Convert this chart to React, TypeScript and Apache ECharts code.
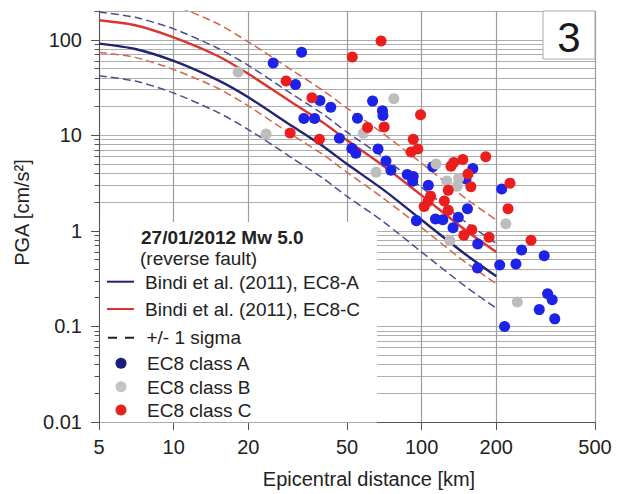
import React, { useEffect, useRef } from "react";
import * as echarts from "echarts";

// ---- GMPE curves (Bindi et al. 2011) ----
const curveDistances = [5, 7, 10, 15, 20, 30, 40, 50, 70, 100, 150, 200];
const ec8aMedian = [91, 80, 60, 38, 25, 12.5, 7.7, 5.0, 2.7, 1.3, 0.57, 0.335];
const ec8aPlusSigma = [195, 172, 130, 82, 54, 27, 16.7, 10.8, 5.9, 2.85, 1.24, 0.74];
const ec8aMinusSigma = [42, 37, 27.7, 17.5, 11.5, 5.8, 3.55, 2.3, 1.25, 0.6, 0.263, 0.155];
const ec8cMedian = [160, 142, 106, 68, 44, 22, 13.6, 8.9, 4.8, 2.35, 1.02, 0.6];
const ec8cPlusSigma = [347, 308, 230, 148, 95, 48, 29.5, 19.3, 10.4, 5.1, 2.2, 1.3];
const ec8cMinusSigma = [73.7, 65.4, 48.8, 31.3, 20.3, 10.1, 6.3, 4.1, 2.2, 1.08, 0.47, 0.28];

// ---- Observed PGA [distance km, PGA cm/s2] ----
const classA = [
  [25.2, 57], [32.8, 74], [31.0, 34], [38.9, 23.2], [43.0, 19.7], [33.5, 15.0], [37.0, 15.0],
  [55.1, 15.1], [46.6, 9.3], [52.3, 7.3], [54.3, 6.5], [63.4, 22.8], [69.5, 18.1], [69.8, 16.1],
  [66.7, 7.2], [71.8, 5.4], [75.2, 4.3], [87.5, 3.9], [92.5, 3.7], [92.0, 3.3], [106.4, 3.0],
  [110.8, 4.7], [160.8, 4.5], [150.9, 3.5], [153.0, 1.7], [95.2, 1.28], [113.7, 1.33],
  [121.7, 1.31], [140.5, 1.39], [133.8, 1.08], [168.3, 0.73], [210.3, 2.74], [253, 0.63],
  [312, 0.55], [168, 0.41], [206.4, 0.44], [240, 0.45], [322, 0.22], [336, 0.19], [298, 0.15],
  [344, 0.12], [216, 0.10],
];
const classB = [
  [18.2, 46], [23.6, 10.3], [77.2, 24.2], [58.2, 10.5], [65.5, 4.1], [114.3, 5.0], [126.2, 3.32],
  [141, 3.56], [139, 2.94], [130, 0.79], [218.5, 1.19], [243, 0.18],
];
const classC = [
  [28.4, 37], [36.1, 24.7], [29.5, 10.6], [38.7, 9.1], [52.5, 66], [68.6, 97], [60.5, 12.1],
  [70.6, 12.2], [99, 16.4], [92.5, 9.1], [90.6, 6.7], [96.5, 7.2], [131.3, 4.76], [134.6, 5.2],
  [146.5, 5.57], [181.3, 5.98], [153.8, 3.93], [158, 2.89], [128, 2.67], [108.6, 2.31],
  [106, 2.03], [102.4, 1.8], [123.4, 2.06], [128, 1.64], [159.3, 1.03], [148, 0.9], [187, 0.86],
  [227, 3.16], [223, 1.7], [276, 0.8],
];

// ---- Axes ----
const xMin = 5;
const xMax = 500;
const yMin = 0.01;
const yMax = 200;
const xTickValues = [5, 10, 20, 50, 100, 200, 500];
const xTickLabels = ["5", "10", "20", "50", "100", "200", "500"];
const yTickValues = [0.01, 0.1, 1, 10, 100];
const yTickLabels = ["0.01", "0.1", "1", "10", "100"];
const yGridValues = [
  0.01, 0.02, 0.03, 0.04, 0.05, 0.06, 0.07, 0.08, 0.09,
  0.1, 0.2, 0.3, 0.4, 0.5, 0.6, 0.7, 0.8, 0.9,
  1, 2, 3, 4, 5, 6, 7, 8, 9,
  10, 20, 30, 40, 50, 60, 70, 80, 90,
  100, 200,
];

const FONT = '"Liberation Sans", Arial, Helvetica, sans-serif';
const lg = Math.log10;

function curve(values: number[]) {
  return curveDistances.map((d, i) => [lg(d), lg(values[i])]);
}
function pts(arr: number[][]) {
  return arr.map(([d, v]) => [lg(d), lg(v)]);
}
function labelFor(values: number[], labels: string[], v: number) {
  for (let i = 0; i < values.length; i++) {
    if (Math.abs(lg(values[i]) - v) < 1e-6) return labels[i];
  }
  return "";
}

export default function App() {
  const ref = useRef<HTMLDivElement>(null);

  useEffect(() => {
    if (!ref.current) return;
    const chart = echarts.init(ref.current, null, { renderer: "svg" });

    const navy = "#232370";
    const navyDash = "#4d4d90";
    const red = "#dc3430";
    const redDash = "#d3644f";
    const axisColor = "#555";

    const lineSeries = (name: string, values: number[], color: string, dashed: boolean, z: number) => ({
      name,
      type: "line",
      data: curve(values),
      showSymbol: false,
      symbol: "none",
      smooth: 0.25,
      z,
      lineStyle: dashed
        ? { color, width: 1.5, type: [8, 4] }
        : { color, width: 2.4 },
      silent: true,
    });

    const legendX = 145;
    const txt = (text: string, x: number, y: number, bold = false) => ({
      type: "text",
      z: 110,
      style: {
        text,
        x,
        y,
        fill: "#222",
        font: `${bold ? "bold " : ""}19px ${FONT}`,
        align: "left",
        verticalAlign: "middle",
        textAlign: "left",
        textVerticalAlign: "middle",
      },
    });

    chart.setOption({
      animation: false,
      backgroundColor: "#fff",
      grid: { left: 99, right: 26, top: 11, bottom: 71, containLabel: false },
      xAxis: {
        type: "value",
        min: lg(xMin),
        max: lg(xMax),
        name: "Epicentral distance [km]",
        nameLocation: "middle",
        nameGap: 47,
        nameTextStyle: { fontSize: 20, color: "#222", fontFamily: FONT, padding: [0, 0, 0, 44] },
        axisLine: { show: true, onZero: false, lineStyle: { color: axisColor, width: 1 } },
        axisTick: { show: true, length: 8, customValues: xTickValues.map(lg), lineStyle: { color: axisColor } },
        axisLabel: {
          customValues: xTickValues.map(lg),
          formatter: (v: number) => labelFor(xTickValues, xTickLabels, v),
          fontSize: 20,
          color: "#222",
          fontFamily: FONT,
          margin: 15,
          showMinLabel: true,
          showMaxLabel: true,
        },
        splitLine: { show: true, lineStyle: { color: "#9c9c9c", width: 1.2 } },
      },
      yAxis: [
        {
          type: "value",
          position: "left",
          min: lg(yMin),
          max: lg(yMax),
          name: "PGA [cm/s²]",
          nameLocation: "middle",
          nameGap: 58,
          nameTextStyle: { fontSize: 20, color: "#222", fontFamily: FONT, padding: [0, 0, 0, 8] },
          axisLine: { show: true, onZero: false, lineStyle: { color: axisColor, width: 1 } },
          axisTick: { show: true, length: 8, customValues: yTickValues.map(lg), lineStyle: { color: axisColor } },
          axisLabel: {
            customValues: yTickValues.map(lg),
            formatter: (v: number) => labelFor(yTickValues, yTickLabels, v),
            fontSize: 20,
            color: "#222",
            fontFamily: FONT,
            margin: 17,
            showMinLabel: true,
            showMaxLabel: true,
          },
          splitLine: { show: false },
        },
        {
          type: "value",
          position: "left",
          offset: 0,
          min: lg(yMin),
          max: lg(yMax),
          axisLine: { show: false, onZero: false },
          axisTick: { show: true, length: 4.5, customValues: yGridValues.map(lg), lineStyle: { color: axisColor } },
          axisLabel: { show: false },
          splitLine: { show: true, lineStyle: { color: "#adadad", width: 1.1 } },
        },
      ],
      series: [
        lineSeries("EC8-A +1 sigma", ec8aPlusSigma, navyDash, true, 3),
        lineSeries("EC8-A -1 sigma", ec8aMinusSigma, navyDash, true, 3),
        lineSeries("EC8-C +1 sigma", ec8cPlusSigma, redDash, true, 3),
        lineSeries("EC8-C -1 sigma", ec8cMinusSigma, redDash, true, 3),
        lineSeries("Bindi et al. (2011), EC8-A", ec8aMedian, navy, false, 4),
        lineSeries("Bindi et al. (2011), EC8-C", ec8cMedian, red, false, 4),
        {
          name: "EC8 class A",
          type: "scatter",
          data: pts(classA),
          symbolSize: 11,
          z: 5,
          itemStyle: { color: "#1d22e8", opacity: 1 },
        },
        {
          name: "EC8 class B",
          type: "scatter",
          data: pts(classB),
          symbolSize: 11,
          z: 5,
          itemStyle: { color: "#bdbdbd", opacity: 1 },
        },
        {
          name: "EC8 class C",
          type: "scatter",
          data: pts(classC),
          symbolSize: 11,
          z: 5,
          itemStyle: { color: "#ec1d1d", opacity: 1 },
        },
      ],
      graphic: {
        elements: [
          {
            type: "rect",
            z: 100,
            shape: { x: 100, y: 222, width: 277, height: 200.5 },
            style: { fill: "#fff" },
          },
          {
            type: "rect",
            z: 100,
            shape: { x: 543, y: 11, width: 52, height: 48 },
            style: { fill: "#fff", stroke: "#a8a8a8", lineWidth: 1 },
          },
          {
            type: "text",
            z: 110,
            style: {
              text: "3",
              x: 569,
              y: 37,
              fill: "#1a1a1a",
              font: `42px ${FONT}`,
              align: "center",
              verticalAlign: "middle",
              textAlign: "center",
              textVerticalAlign: "middle",
            },
          },
          txt("27/01/2012 Mw 5.0", 141, 237, true),
          txt("(reverse fault)", 140, 258),
          {
            type: "line",
            z: 110,
            shape: { x1: 107, y1: 281.7, x2: 134, y2: 281.7 },
            style: { stroke: navy, lineWidth: 2 },
          },
          txt("Bindi et al. (2011), EC8-A", legendX, 282),
          {
            type: "line",
            z: 110,
            shape: { x1: 107, y1: 309, x2: 134, y2: 309 },
            style: { stroke: red, lineWidth: 2 },
          },
          txt("Bindi et al. (2011), EC8-C", legendX, 309.5),
          {
            type: "line",
            z: 110,
            shape: { x1: 108, y1: 337.7, x2: 134, y2: 337.7 },
            style: { stroke: "#222", lineWidth: 2, lineDash: [9, 8] },
          },
          txt("+/- 1 sigma", 146.5, 337.5),
          {
            type: "circle",
            z: 110,
            shape: { cx: 121, cy: 363.3, r: 5.5 },
            style: { fill: "#1c1c7a" },
          },
          txt("EC8 class A", 147, 363.5),
          {
            type: "circle",
            z: 110,
            shape: { cx: 121, cy: 386.7, r: 5.5 },
            style: { fill: "#c4c4c4" },
          },
          txt("EC8 class B", 147, 387),
          {
            type: "circle",
            z: 110,
            shape: { cx: 121, cy: 410, r: 5.5 },
            style: { fill: "#e8231f" },
          },
          txt("EC8 class C", 147, 410.5),
        ],
      },
    });

    return () => chart.dispose();
  }, []);

  return (
    <div
      ref={ref}
      style={{ position: "absolute", left: 0, top: 0, width: 621, height: 494, background: "#fff" }}
    />
  );
}
